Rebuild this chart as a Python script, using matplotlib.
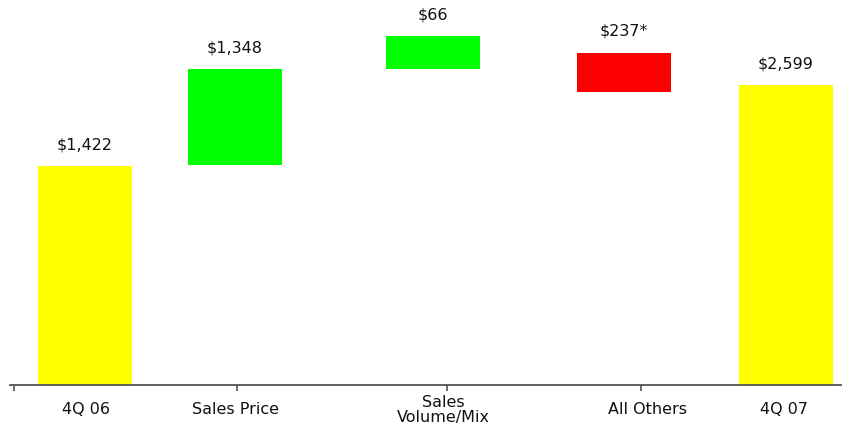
import matplotlib
matplotlib.use("Agg")
import matplotlib.pyplot as plt

# Categories and labels
categories = ["4Q 06", "Sales Price", "Sales\nVolume/Mix", "All Others", "4Q 07"]
value_labels = ["$1,422", "$1,348", "$66", "$237*", "$2,599"]
# Visual bar extents as drawn in the picture (chart units, 4Q 07 = 2599)
bar_bottoms = [0, 1905, 2740, 2540, 0]
bar_heights = [1900, 830, 280, 340, 2599]
bar_colors = ["#FFFF00", "#00FF00", "#00FF00", "#FF0000", "#FFFF00"]

# Layout (horizontal positions in figure-pixel units)
bar_x = [84.5, 234.5, 432.5, 623.5, 786]
bar_width = 94
label_x = [86, 236, 443, 648, 784]
tick_x = [14, 237, 447, 641]

fig = plt.figure(figsize=(8.42, 4.28), dpi=100)
ax = fig.add_axes([0, 0, 1, 1])
unit = 300 / 2599  # px per chart unit
ax.set_xlim(0, 842)
ax.set_ylim(-43 / unit, 385 / unit)

ax.bar(bar_x, bar_heights, bottom=bar_bottoms, width=bar_width,
       color=bar_colors, edgecolor="none", zorder=2)

for x, b, h, t in zip(bar_x, bar_bottoms, bar_heights, value_labels):
    ax.annotate(t, (x, b + h), xytext=(0, 15.2), textcoords="offset points",
                ha="center", va="center", fontsize=11.5, color="#111111",
                family="DejaVu Sans")

for s in ["top", "right", "left"]:
    ax.spines[s].set_visible(False)
ax.spines["bottom"].set_position(("data", 0))
ax.spines["bottom"].set_bounds(10, 842)
ax.spines["bottom"].set_color("#555555")
ax.spines["bottom"].set_linewidth(1.3)
ax.set_yticks([])
ax.set_xticks(tick_x)
ax.set_xticklabels([])
ax.tick_params(axis="x", direction="out", length=4, width=1.2, color="#555555")

for x, c in zip(label_x, categories):
    ax.text(x, -25 / unit, c, ha="center", va="center", fontsize=11.5,
            color="#111111", family="DejaVu Sans", linespacing=0.95)

fig.savefig("out.png", dpi=100)
